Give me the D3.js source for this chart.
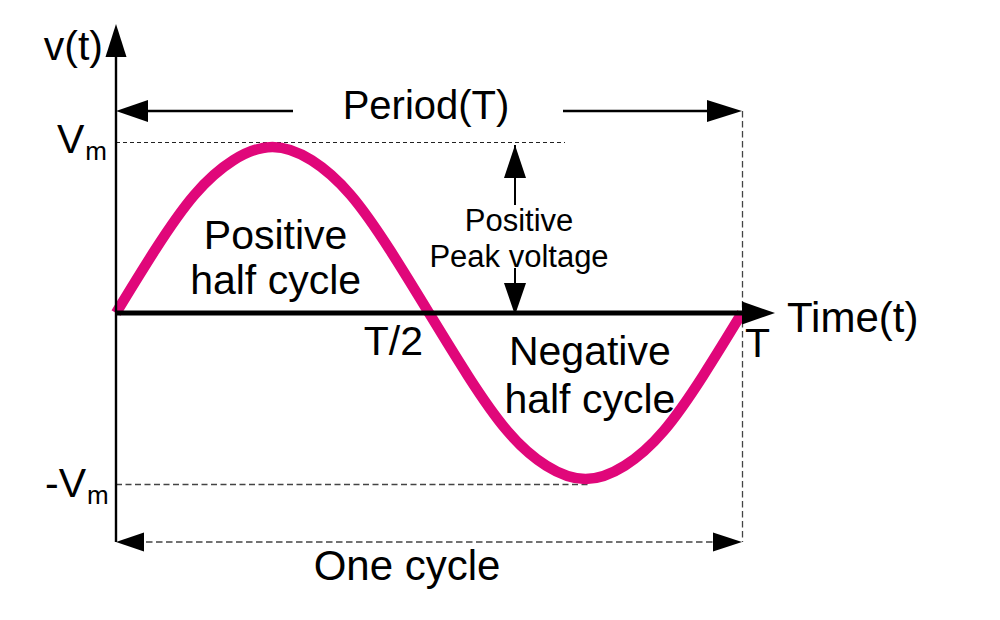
<!DOCTYPE html>
<html>
<head>
<meta charset="utf-8">
<script src="https://cdn.jsdelivr.net/npm/d3@7"></script>
<style>
  html, body { margin: 0; padding: 0; background: #fff; }
  svg { display: block; }
  text { font-family: "Liberation Sans", Arial, Helvetica, sans-serif; fill: #000; }
</style>
</head>
<body>
<svg id="chart" width="1000" height="620"></svg>
<script>
// ---- data ----
// one period of the waveform, time as fraction of T, value as fraction of Vm
const waveT = [0, 0.0625, 0.125, 0.1875, 0.25, 0.3125, 0.375, 0.4375, 0.5,
               0.5625, 0.625, 0.6875, 0.75, 0.8125, 0.875, 0.9375, 1];
const waveV = [0, 0.38, 0.71, 0.92, 1, 0.92, 0.71, 0.38, 0,
               -0.38, -0.71, -0.92, -1, -0.92, -0.71, -0.38, 0];
const tickTimes = [0.5, 1];
const tickLabels = ["T/2", "T"];
const levelValues = [1, -1];
const levelLabels = ["V", "-V"];
const levelSubs = ["m", "m"];
const regionLines = [["Positive", "half cycle"], ["Negative", "half cycle"]];
const axisTitles = ["v(t)", "Time(t)"];
const spanLabels = ["Period(T)", "One cycle"];
const peakLines = ["Positive", "Peak voltage"];

// ---- layout ----
const svg = d3.select("#chart");
const x = d3.scaleLinear().domain([0, 1]).range([116, 742]);
const y = d3.scaleLinear().domain([-1, 1]).range([313 + 166, 313 - 166]);
const big = 41, small = 31;

function tri(g, tipX, tipY, dir, len, half) {
  let pts;
  if (dir === "up") pts = [[tipX, tipY], [tipX - half, tipY + len], [tipX + half, tipY + len]];
  if (dir === "down") pts = [[tipX, tipY], [tipX - half, tipY - len], [tipX + half, tipY - len]];
  if (dir === "left") pts = [[tipX, tipY], [tipX + len, tipY - half], [tipX + len, tipY + half]];
  if (dir === "right") pts = [[tipX, tipY], [tipX - len, tipY - half], [tipX - len, tipY + half]];
  g.append("polygon").attr("points", pts.map(p => p.join(",")).join(" ")).attr("fill", "#000");
}

const g = svg.append("g");

// dashed guide lines
const troughX = x(waveT[waveV.indexOf(-1)]);
g.append("line").attr("x1", x(0)).attr("x2", 565)
  .attr("y1", y(levelValues[0]) - 4.5).attr("y2", y(levelValues[0]) - 4.5)
  .attr("stroke", "#222").attr("stroke-width", 1.2).attr("stroke-dasharray", "4,3");
g.append("line").attr("x1", x(0)).attr("x2", troughX + 3)
  .attr("y1", y(levelValues[1]) + 5.5).attr("y2", y(levelValues[1]) + 5.5)
  .attr("stroke", "#444").attr("stroke-width", 1.3).attr("stroke-dasharray", "6,3.5");
// vertical dashed at T
g.append("line").attr("x1", x(1) + 0.5).attr("x2", x(1) + 0.5)
  .attr("y1", 111).attr("y2", 542)
  .attr("stroke", "#444").attr("stroke-width", 1.3).attr("stroke-dasharray", "6.5,3.5");
// one cycle dashed arrow
g.append("line").attr("x1", x(0) + 20).attr("x2", x(1) - 20)
  .attr("y1", 542).attr("y2", 542)
  .attr("stroke", "#444").attr("stroke-width", 1.5).attr("stroke-dasharray", "6.5,3.5");
tri(g, x(0), 542, "left", 28, 9.5);
tri(g, x(1), 542, "right", 29, 9.5);

// period arrow
g.append("line").attr("x1", x(0) + 10).attr("x2", 293).attr("y1", 111).attr("y2", 111)
  .attr("stroke", "#000").attr("stroke-width", 2.6);
g.append("line").attr("x1", 563).attr("x2", x(1) - 10).attr("y1", 111).attr("y2", 111)
  .attr("stroke", "#000").attr("stroke-width", 2.6);
tri(g, x(0), 111, "left", 32, 11);
tri(g, x(1), 111, "right", 35, 11);

// peak voltage arrows
const pvX = 515;
g.append("line").attr("x1", pvX).attr("x2", pvX).attr("y1", y(1) - 2).attr("y2", 205)
  .attr("stroke", "#000").attr("stroke-width", 2);
tri(g, pvX, y(1) - 2, "up", 33, 11);
g.append("line").attr("x1", pvX).attr("x2", pvX).attr("y1", 268).attr("y2", 290)
  .attr("stroke", "#000").attr("stroke-width", 2);
tri(g, pvX, y(0) + 2, "down", 32, 11);

// waveform
const line = d3.line().x((d, i) => x(waveT[i])).y(d => y(d)).curve(d3.curveNatural);
g.append("path").attr("d", line(waveV))
  .attr("fill", "none").attr("stroke", "#e0077a").attr("stroke-width", 10.5)
  .attr("stroke-linecap", "butt");

// axes
g.append("line").attr("x1", x(0)).attr("x2", x(0)).attr("y1", 50).attr("y2", 542)
  .attr("stroke", "#000").attr("stroke-width", 2.4);
tri(g, x(0), 24, "up", 33, 10.5);
g.append("line").attr("x1", x(0)).attr("x2", 745).attr("y1", y(0)).attr("y2", y(0))
  .attr("stroke", "#000").attr("stroke-width", 5);
tri(g, 775, y(0), "right", 33, 11.5);

// texts
svg.append("text").attr("x", 103).attr("y", 60).attr("text-anchor", "end")
  .attr("font-size", big).text(axisTitles[0]);
svg.append("text").attr("x", 787).attr("y", 332).attr("font-size", 42).text(axisTitles[1]);

// level labels
const lvX = [57, 45];
levelValues.forEach((v, i) => {
  const t = svg.append("text").attr("x", lvX[i])
    .attr("y", i === 0 ? y(v) + 6 : y(v) + 18).attr("font-size", big);
  t.append("tspan").text(levelLabels[i]);
  t.append("tspan").attr("dy", 7).attr("dx", 1).attr("font-size", 26).text(levelSubs[i]);
});

// tick labels
svg.append("text").attr("x", x(tickTimes[0]) - 6).attr("y", 355).attr("text-anchor", "end")
  .attr("font-size", big).text(tickLabels[0]);
svg.append("text").attr("x", x(tickTimes[1]) + 3).attr("y", 357)
  .attr("font-size", big).text(tickLabels[1]);

// region labels
const regionCx = [x(0.255), x(0.757)];
const regionY = [[249, 294], [365, 413]];
regionLines.forEach((lines, i) => {
  lines.forEach((s, j) => {
    svg.append("text").attr("x", regionCx[i]).attr("y", regionY[i][j])
      .attr("text-anchor", "middle").attr("font-size", big).text(s);
  });
});

// span labels
svg.append("text").attr("x", (x(0) + x(1)) / 2 - 3).attr("y", 119)
  .attr("text-anchor", "middle").attr("font-size", 40).text(spanLabels[0]);
svg.append("text").attr("x", (x(0) + x(1)) / 2 - 22).attr("y", 580)
  .attr("text-anchor", "middle").attr("font-size", 42).text(spanLabels[1]);

// peak voltage text
svg.append("text").attr("x", pvX + 4).attr("y", 231).attr("text-anchor", "middle")
  .attr("font-size", small).text(peakLines[0]);
svg.append("text").attr("x", pvX + 4).attr("y", 267).attr("text-anchor", "middle")
  .attr("font-size", small).text(peakLines[1]);
</script>
</body>
</html>
